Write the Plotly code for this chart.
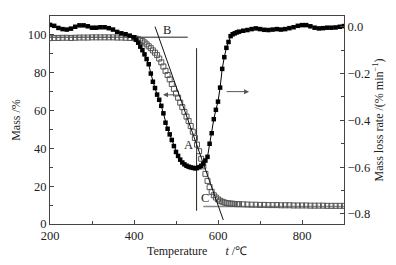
import plotly.graph_objects as go

temp = [200, 210, 220, 230, 240, 250, 260, 270, 280, 290, 300, 310, 320, 330, 340, 350, 360, 370, 380, 390,
        400, 405, 410, 415, 420, 425, 430, 435, 440, 445, 450, 455, 460, 465, 470, 475, 480, 485, 490, 495,
        500, 505, 510, 515, 520, 525, 530, 535, 540, 545, 550, 555, 560, 565, 570, 575, 580, 585, 590, 595,
        600, 605, 610, 615, 620, 625, 630, 635, 640, 645, 650,
        660, 670, 680, 690, 700, 710, 720, 730, 740, 750, 760, 770, 780, 790, 800, 810, 820, 830, 840, 850,
        860, 870, 880, 890, 900]

mass = [98.3, 98.4, 98.4, 98.5, 98.5, 98.4, 98.5, 98.6, 98.6, 98.6, 98.7, 98.7, 98.7, 98.7, 98.7, 98.7, 98.6, 98.6, 98.5, 98.4,
        98.3, 98.0, 97.7, 97.3, 96.8, 96.0, 95.0, 94.0, 93.0, 91.8, 90.6, 89.3, 87.5, 85.5, 83.3, 81.0, 78.8, 76.5, 74.0, 71.5,
        69.0, 66.8, 64.2, 61.8, 59.3, 56.8, 54.5, 51.8, 48.8, 45.5, 42.0, 38.5, 34.5, 30.5, 26.5, 22.8, 19.5, 17.0, 15.2, 14.0,
        13.0, 12.3, 11.8, 11.4, 11.1, 10.9, 10.8, 10.7, 10.6, 10.5, 10.5,
        10.4, 10.3, 10.2, 10.2, 10.1, 10.1, 10.0, 10.0, 10.0, 9.9, 9.9, 9.9, 9.8, 9.8, 9.8, 9.8, 9.7, 9.7, 9.7, 9.7,
        9.6, 9.6, 9.6, 9.6, 9.6]

rate = [0.008, 0.004, -0.005, -0.010, -0.012, -0.008, 0.000, 0.006, 0.006, 0.002, -0.004, -0.004, -0.002, -0.002, -0.006, -0.012, -0.022, -0.028, -0.032, -0.038,
        -0.045, -0.055, -0.068, -0.085, -0.100, -0.118, -0.138, -0.160, -0.200, -0.235, -0.262, -0.290, -0.312, -0.338, -0.370, -0.410, -0.436, -0.460, -0.484, -0.510,
        -0.535, -0.552, -0.568, -0.580, -0.588, -0.594, -0.598, -0.601, -0.603, -0.605, -0.604, -0.600, -0.594, -0.585, -0.572, -0.556, -0.500, -0.455, -0.395, -0.355,
        -0.320, -0.260, -0.180, -0.130, -0.090, -0.065, -0.040, -0.032, -0.028, -0.024, -0.021,
        -0.017, -0.014, -0.010, -0.007, -0.010, -0.013, -0.014, -0.012, -0.010, -0.012, -0.010, -0.006, -0.002, 0.004, 0.007, 0.007, 0.002, -0.004, -0.007, -0.006,
        -0.004, -0.004, -0.003, 0.000, 0.003]

# construction lines (temperature, mass)
tangent_t = [450, 612.6]
tangent_m = [104.4, 2.1]
line_b_t = [200, 528]
line_b_m = [98.8, 98.8]
line_c_t = [565, 900]
line_c_m = [9.2, 9.2]
vert_t = [549, 549]
vert_m = [7, 93]

FONT = "Liberation Serif"

fig = go.Figure()

fig.add_trace(go.Scatter(x=line_b_t, y=line_b_m, mode="lines",
                         line=dict(color="#222", width=1), showlegend=False))
fig.add_trace(go.Scatter(x=line_c_t, y=line_c_m, mode="lines",
                         line=dict(color="#888", width=1.5), showlegend=False))
fig.add_trace(go.Scatter(x=vert_t, y=vert_m, mode="lines",
                         line=dict(color="#222", width=1), showlegend=False))
fig.add_trace(go.Scatter(x=temp, y=mass, mode="markers",
                         marker=dict(symbol="square-open", size=5, color="#555", line=dict(width=1, color="#555")),
                         showlegend=False))
fig.add_trace(go.Scatter(x=tangent_t, y=tangent_m, mode="lines",
                         line=dict(color="#111", width=1), showlegend=False))
fig.add_trace(go.Scatter(x=temp, y=rate, mode="lines+markers", yaxis="y2",
                         line=dict(color="#000", width=1),
                         marker=dict(symbol="square", size=4.5, color="#000"),
                         showlegend=False))

annots = [
    dict(x=478, y=102.6, text="B", showarrow=False),
    dict(x=529, y=41.8, text="A", showarrow=False),
    dict(x=569, y=13.6, text="C", showarrow=False),
    dict(x=469, y=68.3, ax=502, ay=68.3, axref="x", ayref="y", text="", showarrow=True,
         arrowhead=2, arrowsize=1, arrowwidth=1, arrowcolor="#555"),
    dict(x=674, y=70, ax=617, ay=70, axref="x", ayref="y", text="", showarrow=True,
         arrowhead=2, arrowsize=1, arrowwidth=1, arrowcolor="#555"),
]
for a in annots:
    a.update(xref="x", yref="y", font=dict(family=FONT, size=12.5, color="#222"))

# page body has an 8px default margin; compensate so the plot lands where the reference has it
fig.update_layout(
    width=388, height=257,
    margin=dict(l=42, r=52, t=8, b=41, autoexpand=False),
    paper_bgcolor="white", plot_bgcolor="white",
    font=dict(family=FONT, size=12.5, color="#222"),
    annotations=annots,
    xaxis=dict(range=[200, 900], dtick=200, tick0=200, ticks="inside", ticklen=4,
               showline=True, linecolor="#444", linewidth=1, mirror=True, showgrid=False, zeroline=False,
               minor=dict(ticks="inside", dtick=100, ticklen=3, tickcolor="#444"),
               tickcolor="#444", automargin=False,
               title=dict(text="Temperature      <i>t</i> /℃", font=dict(size=12), standoff=4)),
    yaxis=dict(range=[0, 110], dtick=20, ticks="inside", ticklen=4, tickcolor="#444",
               showline=True, linecolor="#444", linewidth=1, showgrid=False, zeroline=False,
               minor=dict(ticks="inside", dtick=10, ticklen=3, tickcolor="#444"), automargin=False,
               title=dict(text="Mass /%", font=dict(size=12), standoff=4)),
    yaxis2=dict(range=[-0.843, 0.046], dtick=0.2, tick0=0, tickformat=".1f", overlaying="y", side="right",
                ticks="inside", ticklen=4, tickcolor="#444",
                showline=True, linecolor="#444", linewidth=1, showgrid=False, zeroline=False,
                minor=dict(ticks="inside", dtick=0.1, ticklen=3, tickcolor="#444"), automargin=False,
                title=dict(text="Mass loss rate /(% min<sup>−1</sup>)", font=dict(size=12), standoff=4)),
)

fig.write_html("out.html")
